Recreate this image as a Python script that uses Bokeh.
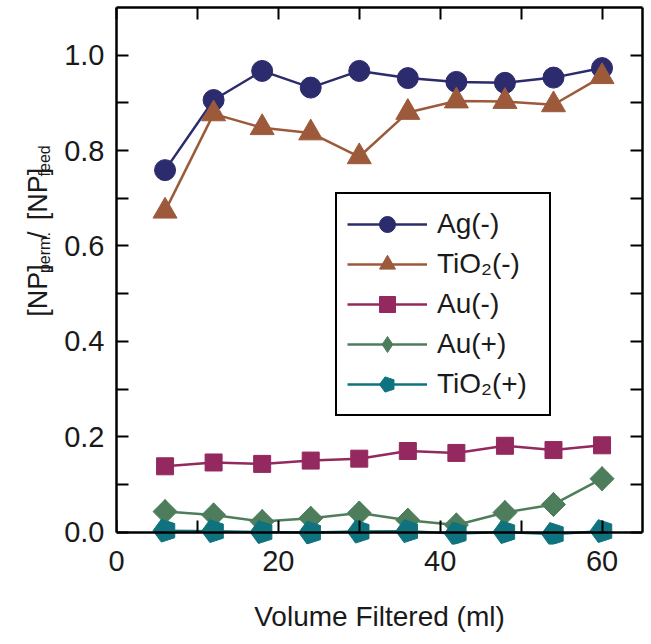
from math import pi
from bokeh.plotting import figure
from bokeh.layouts import row
from bokeh.models import Range1d, LinearAxis, FixedTicker, Legend, LegendItem, Label
from bokeh.embed import file_html
from bokeh.resources import INLINE

# ---- data ----
volume = [6, 12, 18, 24, 30, 36, 42, 48, 54, 60]
ag_neg = [0.759, 0.906, 0.967, 0.932, 0.967, 0.952, 0.944, 0.942, 0.953, 0.973]
tio2_neg = [0.673, 0.877, 0.848, 0.837, 0.787, 0.880, 0.904, 0.903, 0.896, 0.955]
au_neg = [0.138, 0.146, 0.143, 0.150, 0.154, 0.170, 0.166, 0.181, 0.172, 0.182]
au_pos = [0.043, 0.036, 0.022, 0.029, 0.040, 0.025, 0.015, 0.041, 0.058, 0.112]
tio2_pos = [0.003, 0.002, 0.000, -0.001, 0.001, 0.002, -0.003, 0.000, -0.004, 0.002]

series_labels = ["Ag(-)", "TiO\u2082(-)", "Au(-)", "Au(+)", "TiO\u2082(+)"]
x_major = [0, 20, 40, 60]
x_minor = [10, 30, 50]
y_major = [0.0, 0.2, 0.4, 0.6, 0.8, 1.0]
y_minor = [0.1, 0.3, 0.5, 0.7, 0.9]

# y-axis title pieces: [NP]_perm. / [NP]_feed
ylab_parts = ["[NP]", "perm.", " / ", "[NP]", "feed"]
ylab_is_sub = [False, True, False, False, True]

FONT = "Liberation Sans"
TXT = "#1a1a1a"

W, H = 651, 644
LW = 58  # width of the strip that holds the rotated y-axis title

# ---------------- y-title strip ----------------
yfig = figure(width=LW, height=H, output_backend="svg", toolbar_location=None,
              x_range=Range1d(0, LW), y_range=Range1d(0, H),
              min_border_left=0, min_border_right=0, min_border_top=0,
              min_border_bottom=0, x_axis_location=None, y_axis_location=None)
yfig.outline_line_color = None
yfig.grid.visible = False

MAIN_PX, SUB_PX = 27, 16
base_x, sub_x = 37, 44
ADV = {"[NP]": 1.945, "perm.": 2.556, " / ": 0.834, "feed": 1.946}
cur = H - 371  # bottom end of the title (page y 371), counted upward
for part, is_sub in zip(ylab_parts, ylab_is_sub):
    fs = SUB_PX if is_sub else MAIN_PX
    yfig.add_layout(Label(x=sub_x if is_sub else base_x, y=cur, x_units="data",
                          y_units="data", text=part, angle=pi / 2,
                          text_font=FONT, text_font_size=f"{fs}px", text_color=TXT,
                          text_align="left", text_baseline="alphabetic"))
    cur += ADV[part] * fs

# ---------------- main plot ----------------
Y0_PAD = 0.026  # frame extends a little below y=0 so markers on the axis are not cut
p = figure(width=W - LW, height=H, output_backend="svg", toolbar_location=None,
           x_range=Range1d(0, 65), y_range=Range1d(-Y0_PAD, 1.1),
           min_border_left=116 - LW, min_border_right=9, min_border_top=7,
           min_border_bottom=100, x_axis_location=None, y_axis_location=None)
p.grid.visible = False
p.outline_line_color = None
p.background_fill_color = "white"
p.border_fill_color = "white"


def style_axis(ax, major, minor, show_labels, standoff=10):
    ax.ticker = FixedTicker(ticks=major, minor_ticks=minor)
    ax.axis_line_color = "black"
    ax.axis_line_width = 2.5
    ax.major_tick_in = 12
    ax.major_tick_out = 0
    ax.minor_tick_in = 12
    ax.minor_tick_out = 0
    ax.major_tick_line_width = 2
    ax.minor_tick_line_width = 2
    ax.major_tick_line_color = "black"
    ax.minor_tick_line_color = "black"
    ax.major_label_text_font = FONT
    ax.major_label_text_color = TXT
    if show_labels:
        ax.major_label_text_font_size = "29px"
        ax.major_label_standoff = standoff
    else:
        ax.major_label_text_font_size = "0px"
        ax.major_label_standoff = 0


# bottom: labels + title on an axis at the frame edge (no line / ticks) ...
xb_lab = LinearAxis()
style_axis(xb_lab, x_major, [], True, standoff=6)
xb_lab.axis_line_color = None
xb_lab.major_tick_line_color = None
xb_lab.minor_tick_line_color = None
xb_lab.major_tick_in = 0
xb_lab.minor_tick_in = 0
xb_lab.axis_label = "Volume Filtered (ml)"
xb_lab.axis_label_text_font = FONT
xb_lab.axis_label_text_font_size = "28px"
xb_lab.axis_label_text_font_style = "normal"
xb_lab.axis_label_text_color = TXT
xb_lab.axis_label_standoff = 27
p.add_layout(xb_lab, "below")
# ... and the axis line with its ticks drawn at y = 0
xb = LinearAxis(fixed_location=0)
style_axis(xb, x_major, x_minor, False)
p.add_layout(xb, "below")

xt = LinearAxis()
style_axis(xt, x_major, x_minor, False)
p.add_layout(xt, "above")

yl = LinearAxis(bounds=(0, 1.1))
style_axis(yl, y_major, y_minor, True, standoff=12)
yl.major_label_overrides = {0: "0.0", 1: "1.0"}
p.add_layout(yl, "left")

yr = LinearAxis(bounds=(0, 1.1))
style_axis(yr, y_major, y_minor, False)
p.add_layout(yr, "right")

# ---- series ----
C_AG, C_TIN, C_AUN, C_AUP, C_TIP = "#2b2b6d", "#9c5a3b", "#93295f", "#4e7d5c", "#0e737e"
items = []

lr = p.line(volume, ag_neg, line_color=C_AG, line_width=2.5)
mr = p.scatter(volume, ag_neg, marker="circle", size=21, fill_color=C_AG, line_color=C_AG)
items.append(LegendItem(label=series_labels[0], renderers=[lr, mr]))

lr = p.line(volume, tio2_neg, line_color=C_TIN, line_width=2.5)
mr = p.scatter(volume, tio2_neg, marker="triangle", size=24, fill_color=C_TIN, line_color=C_TIN)
items.append(LegendItem(label=series_labels[1], renderers=[lr, mr]))

lr = p.line(volume, au_neg, line_color=C_AUN, line_width=2.5)
mr = p.scatter(volume, au_neg, marker="square", size=17, fill_color=C_AUN, line_color=C_AUN)
items.append(LegendItem(label=series_labels[2], renderers=[lr, mr]))

lr = p.line(volume, au_pos, line_color=C_AUP, line_width=2.5)
# narrow diamond (used for the legend swatch) hidden under a square turned 45 degrees
mr = p.scatter(volume, au_pos, marker="diamond", size=24, fill_color=C_AUP, line_color=C_AUP)
p.scatter(volume, au_pos, marker="square", size=17, angle=pi / 4, fill_color=C_AUP, line_color=C_AUP)
items.append(LegendItem(label=series_labels[3], renderers=[lr, mr]))

lr = p.line(volume, tio2_pos, line_color=C_TIP, line_width=2.5)
mr = p.ngon(x=volume, y=tio2_pos, radius=12, radius_units="screen", n=5,
            angle=pi / 2, fill_color=C_TIP, line_color=C_TIP)
items.append(LegendItem(label=series_labels[4], renderers=[lr, mr]))

legend = Legend(items=items, location=(219, 128))
legend.label_text_font = FONT
legend.label_text_font_size = "28px"
legend.label_text_color = TXT
legend.glyph_width = 80
legend.glyph_height = 40
legend.label_height = 40
legend.label_standoff = 10
legend.label_width = 102
legend.spacing = 0
legend.padding = 10
legend.margin = 0
legend.border_line_color = "black"
legend.border_line_alpha = 1
legend.border_line_width = 2
legend.background_fill_alpha = 1
p.add_layout(legend)

layout = row(yfig, p, spacing=0)
open("out.html", "w").write(file_html(layout, INLINE))
